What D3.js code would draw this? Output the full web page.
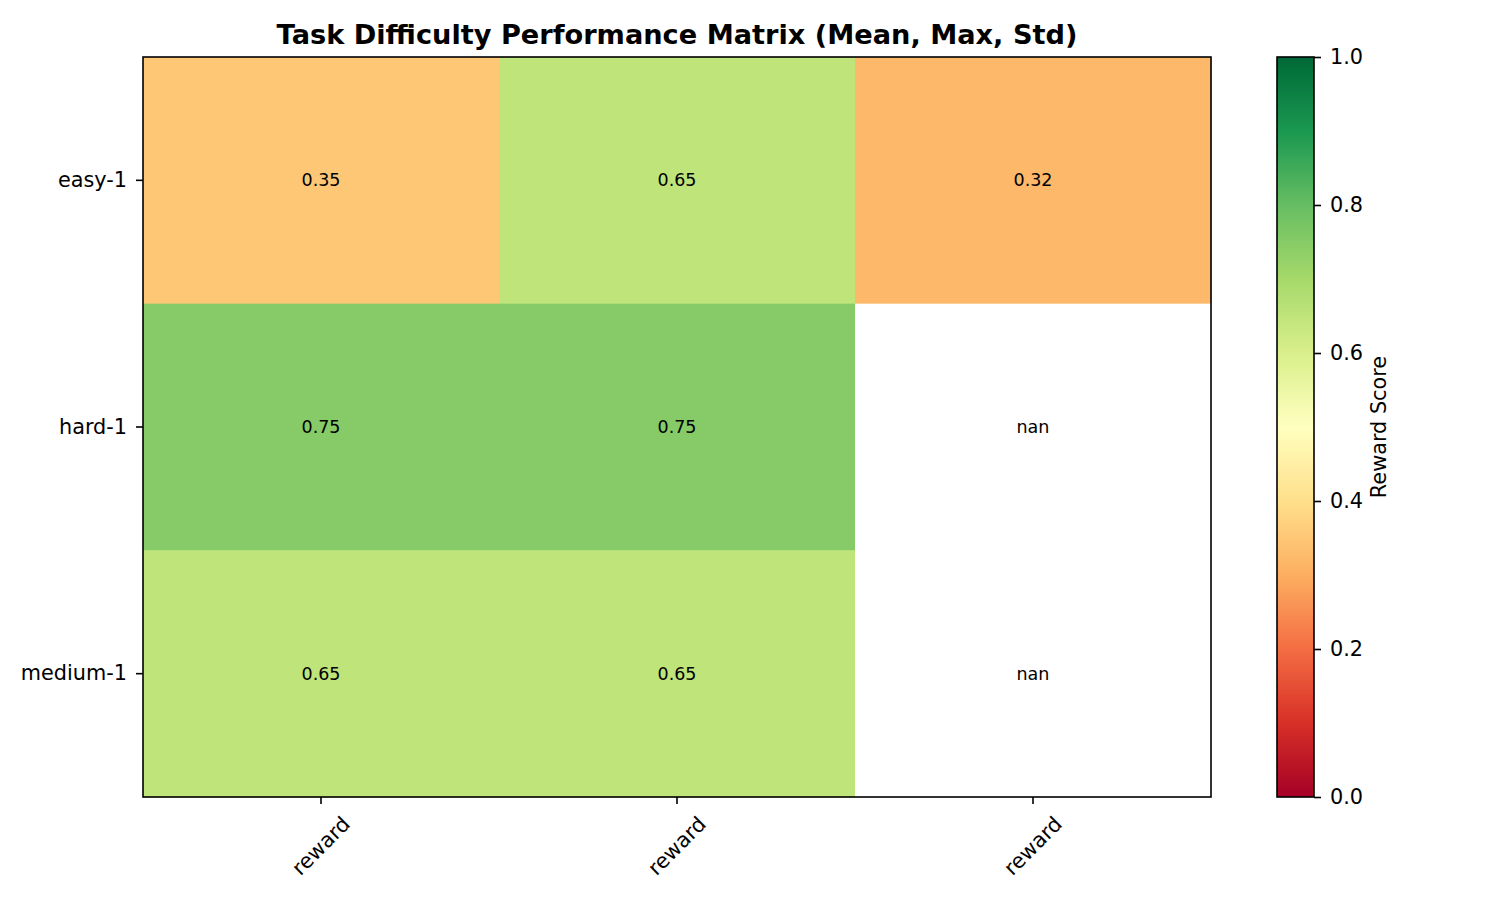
<!DOCTYPE html>
<html>
<head>
<meta charset="utf-8">
<script src="https://cdn.jsdelivr.net/npm/d3@7"></script>
<style>
  body { margin: 0; background: #fff; }
  svg text { font-family: "DejaVu Sans", sans-serif; }
</style>
</head>
<body>
<svg></svg>
<script>
// Data
const tasks = ["easy-1", "hard-1", "medium-1"];
const metricLabels = ["reward", "reward", "reward"];
const meanVals = [0.35, 0.75, 0.65];
const maxVals = [0.65, 0.75, 0.65];
const stdVals = [0.32, NaN, NaN];
const cbarTicks = [0.0, 0.2, 0.4, 0.6, 0.8, 1.0];

// matplotlib RdYlGn stops
const rdylgn = ["#a50026", "#d73027", "#f46d43", "#fdae61", "#fee08b", "#ffffbf",
  "#d9ef8b", "#a6d96a", "#66bd63", "#1a9850", "#006837"];

const drawHeatmap = () => {
  let width = 1500;
  let height = 900;
  let left = 143, right = 1211, top = 57, bottom = 797;
  let svg = d3.select("svg").attr("width", width).attr("height", height);

  let columns = [meanVals, maxVals, stdVals];
  let cells = [];
  tasks.forEach((t, r) => {
    columns.forEach((col, c) => {
      cells.push({ row: r, col: c, value: col[r] });
    });
  });

  let color = d3
    .scaleLinear()
    .domain(rdylgn.map((d, i) => i / (rdylgn.length - 1)))
    .range(rdylgn)
    .interpolate(d3.interpolateRgb)
    .clamp(true);

  let xScale = d3.scaleBand().domain(d3.range(metricLabels.length)).range([left, right]);
  let yScale = d3.scaleBand().domain(d3.range(tasks.length)).range([top, bottom]);

  // cells
  svg
    .append("g")
    .selectAll("rect")
    .data(cells)
    .enter()
    .append("rect")
    .attr("x", (d) => xScale(d.col))
    .attr("y", (d) => yScale(d.row))
    .attr("width", xScale.bandwidth() + 0.5)
    .attr("height", yScale.bandwidth() + 0.5)
    .attr("fill", (d) => (isNaN(d.value) ? "#ffffff" : color(d.value)));

  svg
    .append("g")
    .selectAll("text")
    .data(cells)
    .enter()
    .append("text")
    .attr("x", (d) => xScale(d.col) + xScale.bandwidth() / 2)
    .attr("y", (d) => yScale(d.row) + yScale.bandwidth() / 2)
    .attr("text-anchor", "middle")
    .attr("dominant-baseline", "central")
    .style("font-size", "17.5px")
    .attr("fill", "#000")
    .text((d) => (isNaN(d.value) ? "nan" : d.value.toFixed(2)));

  // axes
  let xAxis = svg
    .append("g")
    .attr("transform", "translate(0," + bottom + ")")
    .call(d3.axisBottom(xScale).tickSize(7).tickFormat((i) => metricLabels[i]));
  xAxis.attr("font-family", null);
  xAxis.select(".domain").remove();
  xAxis.selectAll(".tick line").attr("stroke", "#000").attr("stroke-width", 1.6);
  xAxis
    .selectAll(".tick text")
    .style("font-size", "20.8px")
    .attr("fill", "#000")
    .attr("text-anchor", "middle")
    .attr("dominant-baseline", "central")
    .attr("x", 0)
    .attr("y", 0)
    .attr("dy", null)
    .attr("transform", "translate(0,49) rotate(-45)");

  let yAxis = svg
    .append("g")
    .attr("transform", "translate(" + left + ",0)")
    .call(d3.axisLeft(yScale).tickSize(7).tickPadding(9).tickFormat((i) => tasks[i]));
  yAxis.attr("font-family", null);
  yAxis.select(".domain").remove();
  yAxis.selectAll(".tick line").attr("stroke", "#000").attr("stroke-width", 1.6);
  yAxis.selectAll(".tick text").style("font-size", "20.8px").attr("fill", "#000");

  svg
    .append("rect")
    .attr("x", left)
    .attr("y", top)
    .attr("width", right - left)
    .attr("height", bottom - top)
    .attr("fill", "none")
    .attr("stroke", "#000")
    .attr("stroke-width", 1.6);

  // title
  svg
    .append("text")
    .attr("x", (left + right) / 2)
    .attr("y", 44)
    .attr("text-anchor", "middle")
    .style("font-size", "27.2px")
    .style("font-weight", "bold")
    .text("Task Difficulty Performance Matrix (Mean, Max, Std)");

  // colorbar
  let cbLeft = 1277, cbWidth = 37;
  let defs = svg.append("defs");
  let grad = defs
    .append("linearGradient")
    .attr("id", "cbgrad")
    .attr("x1", 0).attr("y1", 1).attr("x2", 0).attr("y2", 0);
  grad
    .selectAll("stop")
    .data(d3.range(0, 1.0001, 0.02))
    .enter()
    .append("stop")
    .attr("offset", (d) => d)
    .attr("stop-color", (d) => color(d));

  let cbScale = d3.scaleLinear().domain([0, 1]).range([bottom, top]);
  svg
    .append("rect")
    .attr("x", cbLeft)
    .attr("y", top)
    .attr("width", cbWidth)
    .attr("height", bottom - top)
    .attr("fill", "url(#cbgrad)")
    .attr("stroke", "#000")
    .attr("stroke-width", 1.6);

  let cbAxis = svg
    .append("g")
    .attr("transform", "translate(" + (cbLeft + cbWidth) + ",0)")
    .call(d3.axisRight(cbScale).tickValues(cbarTicks).tickSize(7).tickPadding(9).tickFormat(d3.format(".1f")));
  cbAxis.attr("font-family", null);
  cbAxis.select(".domain").remove();
  cbAxis.selectAll(".tick line").attr("stroke", "#000").attr("stroke-width", 1.6);
  cbAxis.selectAll(".tick text").style("font-size", "20.8px").attr("fill", "#000");

  svg
    .append("text")
    .attr("transform", "translate(1386," + (top + bottom) / 2 + ") rotate(-90)")
    .attr("text-anchor", "middle")
    .style("font-size", "20.8px")
    .text("Reward Score");
};

drawHeatmap();
</script>
</body>
</html>
